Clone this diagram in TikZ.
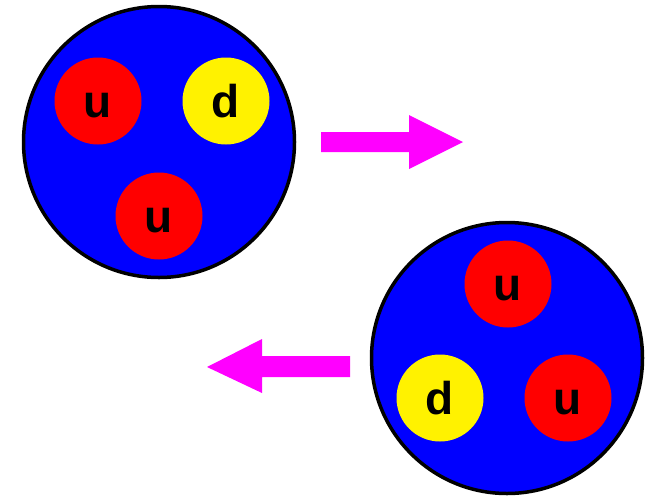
\documentclass[tikz,border=0pt]{standalone}
\usepackage{fontspec}
\setmainfont{Liberation Sans}
\begin{document}
\begin{tikzpicture}[x=1pt,y=-1pt,
  proton/.style={circle,draw=black,line width=3.5pt,fill=blue,minimum size=271pt,inner sep=0pt},
  quark/.style={circle,minimum size=87pt,inner sep=0pt},
  upq/.style={quark,fill=red},
  downq/.style={quark,fill=yellow},
  flavour/.style={anchor=base,inner sep=0pt,font=\bfseries\fontsize{46}{46}\selectfont}]
\useasboundingbox (0,0) rectangle (656,496);
\definecolor{magenta}{RGB}{255,0,255}
% proton 1
\node[proton] (p1) at (159,142) {};
\node[upq] (q1) at (98,101) {};
\node[downq] (q2) at (226,101) {};
\node[upq] (q3) at (159,216) {};
\path (q1.center) ++(0,16.5) node[flavour] (t1) {u};
\path (q2.center) ++(0,16.5) node[flavour] (t2) {d};
\path (q3.center) ++(0,16.5) node[flavour] (t3) {u};
% proton 2
\node[proton] (p2) at (507,358) {};
\node[upq] (q4) at (508,284) {};
\node[downq] (q5) at (440,398) {};
\node[upq] (q6) at (568,398) {};
\path (q4.center) ++(0,16.5) node[flavour] (t4) {u};
\path (q5.center) ++(0,16.5) node[flavour] (t5) {d};
\path (q6.center) ++(0,16.5) node[flavour] (t6) {u};
% arrows
\fill[magenta] (321,132) -- (409,132) -- (409,115) -- (463,142) -- (409,169) -- (409,152) -- (321,152) -- cycle;
\fill[magenta] (350,356) -- (262,356) -- (262,339) -- (207,367) -- (262,393) -- (262,377) -- (350,377) -- cycle;
\end{tikzpicture}
\end{document}
